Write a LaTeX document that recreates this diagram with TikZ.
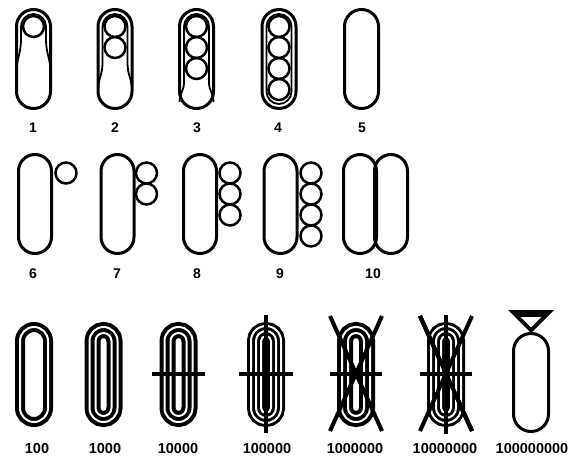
\documentclass[tikz,border=0pt]{standalone}
\usepackage{fontspec}
\setmainfont{Liberation Sans}
% capsule: cx, cy, half-width, half-height (centre line)
\newcommand\capsl[5][]{\draw[#1,rounded corners=#4pt] ({#2-#4},{#3-#5}) rectangle ({#2+#4},{#3+#5});}
% concentric ring of the bottom row: cx, cy, inset d
\newcommand\ringo[4][]{\pgfmathsetmacro\rrA{19-#4}\pgfmathsetmacro\rrB{52.5-#4}%
  \draw[#1,rounded corners=\rrA pt] ({#2-\rrA},{#3-\rrB}) rectangle ({#2+\rrA},{#3+\rrB});}
% thin inner line of the top row: cx, y where parallel part ends, y where it merges into the outline
\newcommand\innerln[3]{\pgfmathsetmacro\rrM{(#2+#3)/2}%
  \draw[inl,rounded corners=12.5pt] ({#1-12.5},#2) -- ({#1-12.5},14) -- ({#1+12.5},14) -- ({#1+12.5},#2);
  \draw[inl] ({#1-12.5},#2) .. controls ({#1-12.5},\rrM) and ({#1-17},\rrM) .. ({#1-17},#3);
  \draw[inl] ({#1+12.5},#2) .. controls ({#1+12.5},\rrM) and ({#1+17},\rrM) .. ({#1+17},#3);}
\begin{document}
\begin{tikzpicture}[x=1pt,y=-1pt,
  capline/.style={line width=3},
  circ/.style={line width=2.5},
  inl/.style={line width=1.8},
  bar/.style={line width=3.6},
  lbl/.style={font=\bfseries\fontsize{14}{14}\selectfont,inner sep=0pt,anchor=center},
  lblb/.style={font=\bfseries\fontsize{14.5}{14.5}\selectfont,inner sep=0pt,anchor=center}]
\fill[white] (0,0) rectangle (576,458);
\useasboundingbox (0,0) rectangle (576,458);

% ---------- row 1 ----------
\capsl[capline]{33.5}{59}{17}{49.5}
\innerln{33.5}{38}{74}
\draw[circ] (33.5,26.5) circle[radius=10.5pt];

\capsl[capline]{115}{59}{17}{49.5}
\innerln{115}{62}{92}
\draw[circ] (115,26.5) circle[radius=10.5pt];
\draw[circ] (115,47.5) circle[radius=10.5pt];

\capsl[capline]{196.5}{59}{17}{49.5}
\innerln{196.5}{82}{102}
\foreach \yy in {26.5,47.5,68.5} \draw[circ] (196.5,\yy) circle[radius=10.5pt];

\capsl[capline]{279}{59}{17}{49.5}
\capsl[line width=1.8]{279}{59}{12.5}{45}
\foreach \yy in {26.5,47.5,68.5,89.5} \draw[circ] (279,\yy) circle[radius=10.5pt];

\capsl[capline]{361.5}{59}{17}{49.5}

\node[lbl] (l1) at (33,128) {1};
\node[lbl] (l2) at (115,128) {2};
\node[lbl] (l3) at (197,128) {3};
\node[lbl] (l4) at (278,128) {4};
\node[lbl] (l5) at (362,128) {5};

% ---------- row 2 ----------
\capsl[capline]{35}{204}{16.5}{49.5}
\draw[circ] (66,173) circle[radius=10.5pt];

\capsl[capline]{117.5}{204}{16.5}{49.5}
\foreach \yy in {173,194} \draw[circ] (146.5,\yy) circle[radius=10.5pt];

\capsl[capline]{200}{204}{16.5}{49.5}
\foreach \yy in {173,194,215} \draw[circ] (230,\yy) circle[radius=10.5pt];

\capsl[capline]{280.5}{204}{16.5}{49.5}
\foreach \yy in {173,194,215,236} \draw[circ] (311,\yy) circle[radius=10.5pt];

\capsl[capline]{360}{204}{16.5}{49.5}
\capsl[capline]{391}{204}{16.5}{49.5}

\node[lbl] (l6) at (33,274) {6};
\node[lbl] (l7) at (117,274) {7};
\node[lbl] (l8) at (197,274) {8};
\node[lbl] (l9) at (280,274) {9};
\node[lbl] (l10) at (373,274) {10};

% ---------- row 3 ----------
% 100
\ringo[line width=10]{34}{374.5}{5}
\ringo[white,line width=2]{34}{374.5}{5}
% 1000
\ringo[line width=16]{103.5}{374.5}{8}
\ringo[white,line width=2]{103.5}{374.5}{5}
\ringo[white,line width=2]{103.5}{374.5}{11}
% 10000
\ringo[line width=16]{178.5}{374.5}{8}
\ringo[white,line width=2]{178.5}{374.5}{5}
\ringo[white,line width=2]{178.5}{374.5}{11}
\draw[bar] (152,374) -- (205,374);
% 100000
\ringo[line width=18]{266}{374.5}{9}
\foreach \dd in {4,9,14} \ringo[white,line width=2]{266}{374.5}{\dd}
\draw[bar] (239,374) -- (293,374);
\draw[bar] (266,315) -- (266,433);
% 1000000
\ringo[line width=16]{356}{374.5}{8}
\ringo[white,line width=2]{356}{374.5}{5}
\ringo[white,line width=2]{356}{374.5}{11}
\draw[line width=4] (330,316) -- (382,431);
\draw[line width=4] (382,316) -- (330,431);
\draw[bar] (330,374) -- (382,374);
% 10000000
\ringo[line width=18]{446}{374.5}{9}
\foreach \dd in {4,9,14} \ringo[white,line width=2]{446}{374.5}{\dd}
\draw[line width=4] (420,316) -- (472,431);
\draw[line width=4] (472,316) -- (420,431);
\draw[bar] (420,374) -- (472,374);
\draw[bar] (446,315) -- (446,434);
% 100000000
\capsl[capline]{531}{382.5}{17.5}{49}
\fill (508,310) -- (554,310) -- (531,333) -- cycle;
\fill[white] (520.7,317) -- (541.3,317) -- (531,327.3) -- cycle;

\node[lblb] (l100) at (37,449) {100};
\node[lblb] (l1000) at (105,449) {1000};
\node[lblb] (l10000) at (178,449) {10000};
\node[lblb] (l100000) at (267,449) {100000};
\node[lblb] (l1000000) at (355,449) {1000000};
\node[lblb] (l10000000) at (445,449) {10000000};
\node[lblb] (l100000000) at (532,449) {100000000};
\end{tikzpicture}
\end{document}
